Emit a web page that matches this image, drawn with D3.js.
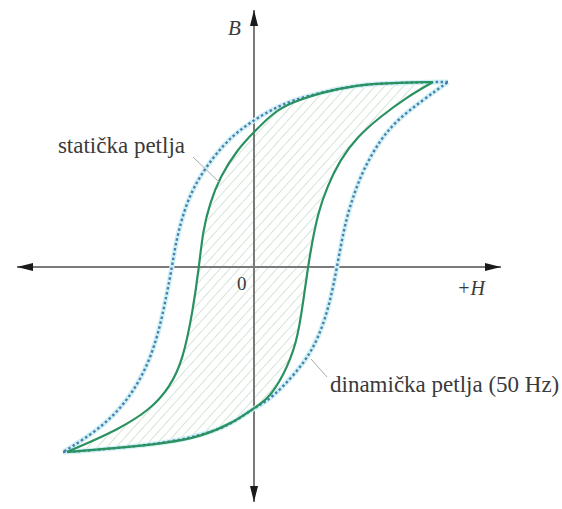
<!DOCTYPE html>
<html lang="hr">
<head>
<meta charset="utf-8">
<title>Petlja histereze</title>
<script src="https://cdn.jsdelivr.net/npm/d3@7"></script>
<style>
  body { margin: 0; background: #fff; }
  text { font-family: "Liberation Serif", "Times New Roman", serif; fill: #3a3a3a; }
</style>
</head>
<body>
<script>
// Static loop (H, B) in arbitrary units
var staticDown = [[8.95,9.25],[6.8,9.2],[5.15,9.1],[3.45,8.75],[1.8,8.2],[0.95,7.7],[0,6.75],
  [-0.85,5.85],[-1.7,4.5],[-2.2,3.2],[-2.55,1.85],[-2.75,0],[-3.05,-2.15],[-3.55,-4.65],
  [-4.2,-6.0],[-5.2,-7.15],[-6.85,-8.15],[-8.55,-8.9],[-9.35,-9.25]];
var staticUp = [[-9.35,-9.25],[-6.85,-9.05],[-4.35,-8.8],[-2.7,-8.5],[-1.05,-7.8],[0,-7.05],
  [0.65,-6.65],[1.45,-5.5],[2.15,-3.8],[2.45,-1.8],[2.7,0],[2.9,1.2],[3.2,2.7],[3.65,4.0],
  [4.3,5.35],[5.15,6.5],[6.3,7.5],[7.65,8.5],[8.95,9.25]];

// Dynamic loop (50 Hz)
var dynDown = [[9.7,9.25],[8.95,9.25],[6.8,9.2],[5.15,9.1],[3.45,8.75],[1.95,8.35],[0.95,7.9],
  [0,7.35],[-1.05,6.6],[-2.05,5.5],[-3.05,4.0],[-3.6,2.5],[-3.95,1.0],[-4.1,0],[-4.35,-1.3],
  [-4.7,-3.0],[-5.2,-4.65],[-6.05,-6.3],[-7.2,-7.65],[-8.55,-8.65],[-9.55,-9.25]];
var dynUp = [[-9.55,-9.25],[-8.55,-9.2],[-6.85,-9.05],[-4.35,-8.8],[-2.2,-8.3],[-1.05,-7.8],
  [0,-7.05],[0.6,-6.75],[1.45,-6.0],[2.55,-4.75],[3.25,-3.5],[3.8,-1.8],[4.15,0],[4.55,2.2],
  [4.95,3.5],[5.45,4.85],[6.3,6.35],[7.15,7.35],[8.45,8.35],[9.7,9.25]];

var hExtent = [-11.85, 12.35];
var bExtent = [-11.75, 12.85];

var w = 562, h = 509;

var x = d3.scaleLinear().domain([-12, 12]).range([14, 494]);
var y = d3.scaleLinear().domain([-12, 12]).range([507, 27]);

var svg = d3.select("body").append("svg")
  .attr("width", w).attr("height", h);

var defs = svg.append("defs");

defs.append("marker")
  .attr("id", "arrow")
  .attr("viewBox", "0 0 16 8")
  .attr("refX", 16).attr("refY", 4)
  .attr("markerWidth", 16).attr("markerHeight", 8)
  .attr("markerUnits", "userSpaceOnUse")
  .attr("orient", "auto-start-reverse")
  .append("path")
  .attr("d", "M0,0 L16,4 L0,8 Z")
  .attr("fill", "#1a1a1a");

var hatch = defs.append("pattern")
  .attr("id", "hatch")
  .attr("patternUnits", "userSpaceOnUse")
  .attr("width", 7).attr("height", 7)
  .attr("patternTransform", "rotate(42)");
hatch.append("line")
  .attr("x1", 0).attr("y1", 0).attr("x2", 0).attr("y2", 7)
  .attr("stroke", "#b8d3ba").attr("stroke-width", 1.2);

var line = d3.line()
  .x(function(d) { return x(d[0]); })
  .y(function(d) { return y(d[1]); })
  .curve(d3.curveBasis);

// hatched area inside static loop
svg.append("path")
  .attr("d", line(staticDown) + line(staticUp).replace(/^M/, "L") + "Z")
  .attr("fill", "url(#hatch)");

// axes
svg.append("line")
  .attr("x1", x(hExtent[0])).attr("x2", x(hExtent[1]))
  .attr("y1", y(0)).attr("y2", y(0))
  .attr("stroke", "#7a7a7a").attr("stroke-width", 2)
  .attr("marker-start", "url(#arrow)").attr("marker-end", "url(#arrow)");
svg.append("line")
  .attr("x1", x(0)).attr("x2", x(0))
  .attr("y1", y(bExtent[0])).attr("y2", y(bExtent[1]))
  .attr("stroke", "#7a7a7a").attr("stroke-width", 2)
  .attr("marker-start", "url(#arrow)").attr("marker-end", "url(#arrow)");

// dynamic loop: light halo + blue dots
[dynDown, dynUp].forEach(function(br) {
  svg.append("path").attr("d", line(br))
    .attr("fill", "none").attr("stroke", "#d2f0f4").attr("stroke-width", 5);
});
[dynDown, dynUp].forEach(function(br) {
  svg.append("path").attr("d", line(br))
    .attr("fill", "none").attr("stroke", "#4682b0").attr("stroke-width", 2.4)
    .attr("stroke-dasharray", "2.5,2.5");
});

// static loop
[staticDown, staticUp].forEach(function(br) {
  svg.append("path").attr("d", line(br))
    .attr("fill", "none").attr("stroke", "#2a9160").attr("stroke-width", 2.2);
});

// leader lines
svg.append("line")
  .attr("x1", x(-3.05)).attr("y1", y(5.5)).attr("x2", x(-1.7)).attr("y2", y(4.2))
  .attr("stroke", "#aaa").attr("stroke-width", 1);
svg.append("line")
  .attr("x1", x(2.85)).attr("y1", y(-4.6)).attr("x2", x(3.65)).attr("y2", y(-5.5))
  .attr("stroke", "#aaa").attr("stroke-width", 1);

// labels
svg.append("text").text("B")
  .attr("x", x(0) - 26).attr("y", 35)
  .attr("font-size", 21).attr("font-style", "italic");
svg.append("text").text("+H")
  .attr("x", 457).attr("y", y(0) + 28)
  .attr("font-size", 20).attr("font-style", "italic");
svg.append("text").text("0")
  .attr("x", x(0) - 17).attr("y", y(0) + 23)
  .attr("font-size", 19);
svg.append("text").text("statička petlja")
  .attr("x", x(-3.45)).attr("y", 153)
  .attr("text-anchor", "end")
  .attr("font-size", 23);
svg.append("text").text("dinamička petlja (50 Hz)")
  .attr("x", x(3.8)).attr("y", 392)
  .attr("font-size", 23);
</script>
</body>
</html>
